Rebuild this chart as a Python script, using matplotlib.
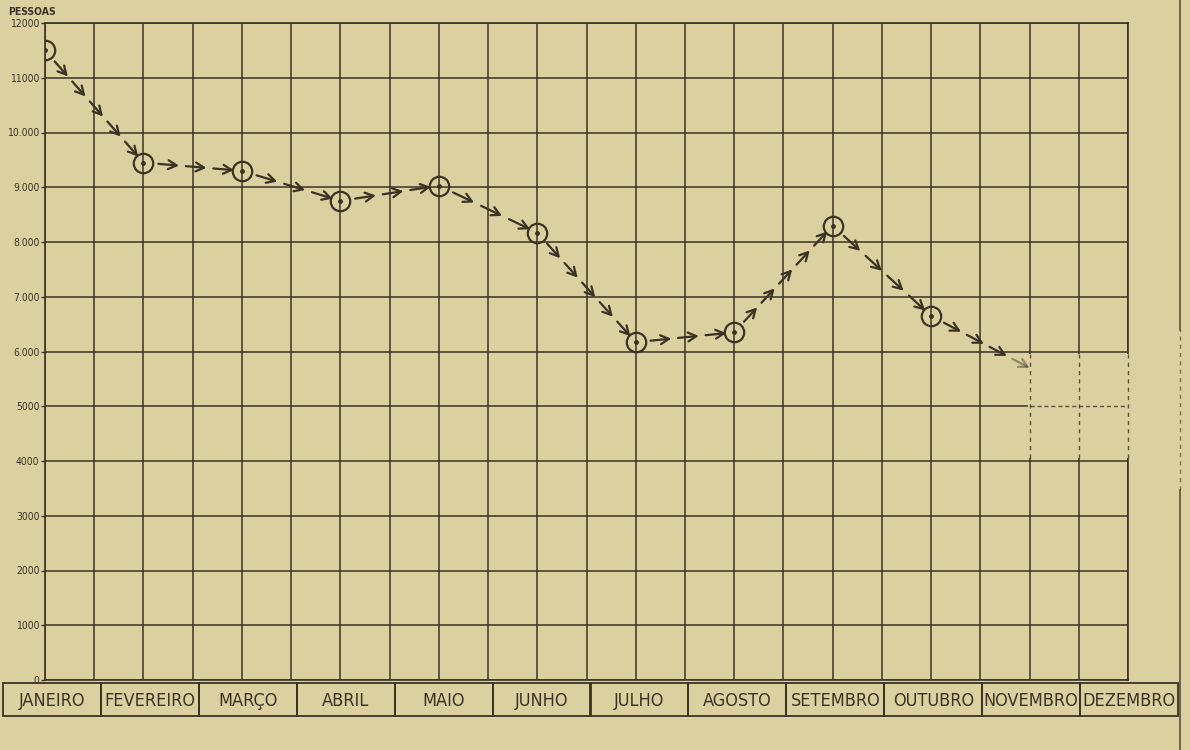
import numpy as np
import matplotlib.pyplot as plt
from matplotlib.patches import Rectangle
from matplotlib.lines import Line2D

# pessoas por mes (novembro ainda incompleto, sem marcador)
meses = ["JANEIRO", "FEVEREIRO", "MARÇO", "ABRIL", "MAIO", "JUNHO",
         "JULHO", "AGOSTO", "SETEMBRO", "OUTUBRO", "NOVEMBRO", "DEZEMBRO"]
pessoas = [11500, 9450, 9300, 8750, 9030, 8170, 6170, 6350, 8300, 6650, 5700]
y_ticks = [0, 1000, 2000, 3000, 4000, 5000, 6000, 7000, 8000, 9000, 10000, 11000, 12000]
y_labels = ["0", "1000", "2000", "3000", "4000", "5000", "6.000", "7.000",
            "8.000", "9.000", "10.000", "11000", "12000"]

papel = "#dbd1a0"
tinta = "#3a3322"
fonte = "DejaVu Sans"

W, H = 1190, 750
fig = plt.figure(figsize=(W / 100, H / 100), dpi=100, facecolor=papel)

# area do grafico: grade de meio em meio mes e de mil em mil pessoas
ax = fig.add_axes([45 / W, 1 - 680 / H, (1128 - 45) / W, (680 - 23) / H])
ax.set_facecolor(papel)
ax.set_xlim(0, 11)
ax.set_ylim(0, 12000)
ax.set_xticks(np.arange(0, 11.01, 0.5))
ax.set_xticklabels([])
ax.tick_params(axis="x", length=0)
ax.set_yticks(y_ticks)
ax.set_yticklabels(y_labels, fontsize=7.5, family=fonte, stretch="condensed", color=tinta)
ax.tick_params(axis="y", length=3, width=1, pad=1, color=tinta)
ax.grid(True, color=tinta, lw=1.1)
for s in ax.spines.values():
    s.set_color(tinta)
    s.set_linewidth(1.2)

# canto desbotado da folha perto de novembro
ax.add_patch(Rectangle((9.985, 4060), 1.1, 1890, facecolor=papel, edgecolor="none",
                       zorder=2.6, clip_on=False))
for xv in [10, 10.5, 11]:
    ax.plot([xv, xv], [4060, 5950], color=tinta, lw=1, ls=(0, (3, 3)), alpha=0.8,
            zorder=2.7, clip_on=False)
ax.plot([10, 11], [5000, 5000], color=tinta, lw=1, ls=(0, (3, 2)), alpha=0.8, zorder=2.7)

# linha tracejada com setas entre os meses
x = np.arange(len(pessoas))
tr = ax.transData
inv = tr.inverted()
pts = tr.transform(np.column_stack([x, pessoas]))
r = 8
for k in range(len(pts) - 1):
    a, b = pts[k], pts[k + 1]
    u = (b - a) / np.hypot(*(b - a))
    ultimo = k + 1 == len(pts) - 1
    start = a + u * r
    end = b - u * (0 if ultimo else r)
    n = max(2, int(round(np.hypot(*(end - start)) / 27)))
    step = (end - start) / n
    for j in range(n):
        q0, q1 = inv.transform([start + step * (j + 0.25), start + step * (j + 1)])
        alfa = 0.45 if (ultimo and j == n - 1) else 1
        ax.annotate("", xy=q1, xytext=q0, zorder=4,
                    arrowprops=dict(arrowstyle="->,head_length=0.6,head_width=0.32",
                                    color=tinta, lw=1.6, alpha=alfa,
                                    shrinkA=0, shrinkB=0))

ax.plot(x[:-1], pessoas[:-1], "o", ms=14, mfc="none", mec=tinta, mew=1.6, zorder=5)
ax.plot(x[:-1], pessoas[:-1], "o", ms=2.5, color=tinta, zorder=5)

fig.text(8 / W, 1 - 12 / H, "PESSOAS", fontsize=7.5, fontweight="bold",
         family=fonte, stretch="condensed", color=tinta, va="center")

# faixa dos meses
bx = fig.add_axes([3 / W, 1 - 716 / H, (1178 - 3) / W, (716 - 683) / H])
bx.set_xlim(0, 12)
bx.set_ylim(0, 1)
bx.axis("off")
for i, m in enumerate(meses):
    bx.add_patch(Rectangle((i, 0), 1, 1, fill=False, ec=tinta, lw=1.3, clip_on=False))
    bx.text(i + 0.5, 0.44, m, ha="center", va="center", fontsize=13,
            family=fonte, stretch="condensed", color=tinta)

# borda direita da folha, apagada na altura de novembro
fig.add_artist(Line2D([1180 / W] * 2, [0, 1 - 490 / H], color=tinta, lw=1.2, alpha=0.8))
fig.add_artist(Line2D([1180 / W] * 2, [1 - 490 / H, 1 - 330 / H], color=tinta, lw=1,
                      ls=(0, (3, 3)), alpha=0.6))
fig.add_artist(Line2D([1180 / W] * 2, [1 - 330 / H, 1], color=tinta, lw=1.2, alpha=0.8))

fig.savefig("out.png", dpi=100, facecolor=papel)
